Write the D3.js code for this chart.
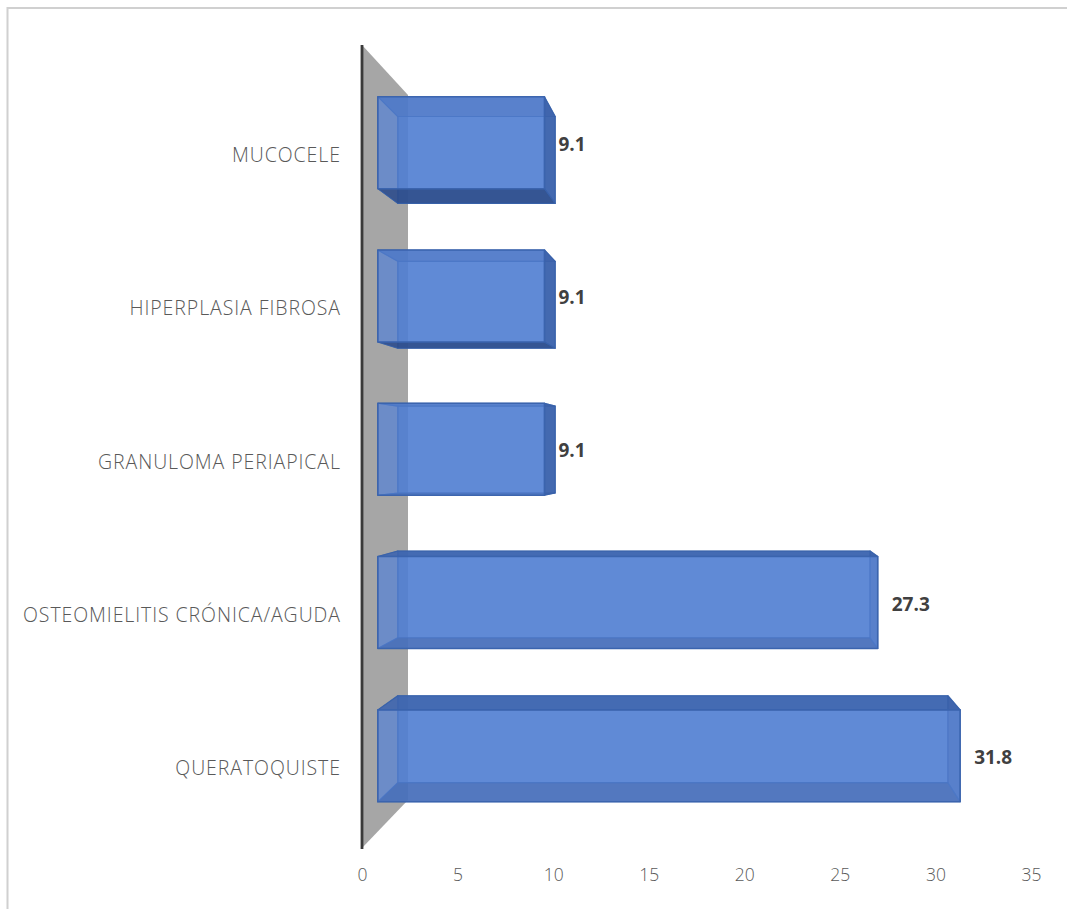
<!DOCTYPE html>
<html>
<head>
<meta charset="utf-8">
<script src="https://cdn.jsdelivr.net/npm/d3@7"></script>
<style>
  html, body { margin: 0; padding: 0; background: #fff; }
  svg { display: block; }
</style>
</head>
<body>
<svg id="chart" width="1067" height="909"></svg>
<script>
// Categories top to bottom, with their percentages
const categories = ["MUCOCELE", "HIPERPLASIA FIBROSA", "GRANULOMA PERIAPICAL", "OSTEOMIELITIS CRÓNICA/AGUDA", "QUERATOQUISTE"];
const values = [9.1, 9.1, 9.1, 27.3, 31.8];
const valueLabels = ["9.1", "9.1", "9.1", "27.3", "31.8"];
const tickValues = [0, 5, 10, 15, 20, 25, 30, 35];

const svg = d3.select("#chart");
const W = 1067, H = 909;

// outer frame (top and left edges visible)
svg.append("path")
  .attr("d", `M7.5,${H} V8 H${W}`)
  .attr("fill", "none")
  .attr("stroke", "#d0d0d0")
  .attr("stroke-width", 2);

// value axis on the front plane, category bands on the front plane
const x = d3.scaleLinear().domain([0, 35]).range([362, 1031]);
const y = d3.scaleBand().domain(categories).range([49, 849]).paddingInner(0.4).paddingOuter(0.2);
const WALL_TOP = 45, WALL_BOTTOM = 848;

// simple perspective: points recede toward a vanishing point as depth grows
const VP = [739, 455];
const proj = (px, py, s) => [VP[0] + (px - VP[0]) * s, VP[1] + (py - VP[1]) * s];
const S_WALL_FRONT = 1, S_WALL_BACK = 0.878;
const S_BAR_FRONT = 0.958, S_BAR_BACK = 0.905;
const poly = pts => "M" + pts.map(p => p.join(",")).join("L") + "Z";

// gray side wall at value 0
svg.append("path")
  .attr("d", poly([
    proj(x(0), WALL_TOP, S_WALL_FRONT), proj(x(0), WALL_TOP, S_WALL_BACK),
    proj(x(0), WALL_BOTTOM, S_WALL_BACK), proj(x(0), WALL_BOTTOM, S_WALL_FRONT)
  ]))
  .attr("fill", "#a6a6a6");

// bars as translucent boxes
const bars = svg.append("g").selectAll("g.bar")
  .data(categories.map((c, i) => ({ c, v: values[i], label: valueLabels[i] })))
  .join("g").attr("class", "bar");

const catLabels = [];
bars.each(function (d) {
  const g = d3.select(this);
  const xa = x(0), xb = x(d.v), ya = y(d.c), yb = y(d.c) + y.bandwidth();
  const F = { tl: proj(xa, ya, S_BAR_FRONT), tr: proj(xb, ya, S_BAR_FRONT), br: proj(xb, yb, S_BAR_FRONT), bl: proj(xa, yb, S_BAR_FRONT) };
  const B = { tl: proj(xa, ya, S_BAR_BACK), tr: proj(xb, ya, S_BAR_BACK), br: proj(xb, yb, S_BAR_BACK), bl: proj(xa, yb, S_BAR_BACK) };
  const stroke = "#3560aa";
  const face = (pts, fill, op) => g.append("path").attr("d", poly(pts))
    .attr("fill", fill).attr("fill-opacity", op)
    .attr("stroke", stroke).attr("stroke-opacity", 0.75).attr("stroke-width", 1.1)
    .attr("stroke-linejoin", "round");
  face([B.tl, B.tr, B.br, B.bl], "#4472c4", 0.78);          // back
  face([F.tl, B.tl, B.bl, F.bl], "#4472c4", 0.3);           // left
  face([F.tl, F.tr, B.tr, B.tl], "#3d64ae", 0.85);          // top
  face([F.bl, F.br, B.br, B.bl], "#2b4a88", 0.85);          // bottom
  face([F.tr, B.tr, B.br, F.br], "#3c62aa", 0.85);          // right
  face([F.tl, F.tr, F.br, F.bl], "#5886d8", 0.6)            // front
    .attr("stroke", "#3a63ad").attr("stroke-opacity", 0.95).attr("stroke-width", 1.6);

  const cy = (F.tl[1] + F.bl[1]) / 2;
  // value label
  g.append("text")
    .attr("x", F.tr[0] + 14).attr("y", cy + 1)
    .attr("dominant-baseline", "central")
    .attr("font-family", "'Open Sans', sans-serif")
    .attr("font-weight", "bold").attr("font-size", 19)
    .attr("fill", "#404040")
    .text(d.label);
  // category label
  catLabels.push(g.append("text")
    .attr("x", 340).attr("y", cy + 12)
    .attr("dominant-baseline", "central")
    .attr("text-anchor", "end")
    .attr("font-family", "'Open Sans', sans-serif")
    .attr("font-weight", 300)
    .attr("font-size", 19.5)
    .attr("fill", "#595959")
    .text(d.c));
});

// a touch of letter spacing so the longest label spans the space left of the axis
const longest = catLabels.reduce((a, b) => (b.text().length > a.text().length ? b : a));
const natural = longest.node().getComputedTextLength();
const spacing = Math.max(0, (318 - natural) / longest.text().length);
catLabels.forEach(t => t.attr("letter-spacing", spacing.toFixed(2)).attr("dx", spacing.toFixed(2)));

// dark vertical axis line at value 0
svg.append("line")
  .attr("x1", x(0)).attr("x2", x(0))
  .attr("y1", WALL_TOP).attr("y2", WALL_BOTTOM + 1)
  .attr("stroke", "#3a3a3a").attr("stroke-width", 2.8);

// value axis labels
const axis = d3.axisBottom(x).tickValues(tickValues).tickSize(0).tickPadding(10);
const ax = svg.append("g").attr("transform", "translate(0,859)").call(axis);
ax.select(".domain").remove();
ax.selectAll("text")
  .attr("font-family", "'Open Sans', sans-serif")
  .attr("font-weight", 300)
  .attr("font-size", 17.5)
  .attr("fill", "#595959");
</script>
</body>
</html>
